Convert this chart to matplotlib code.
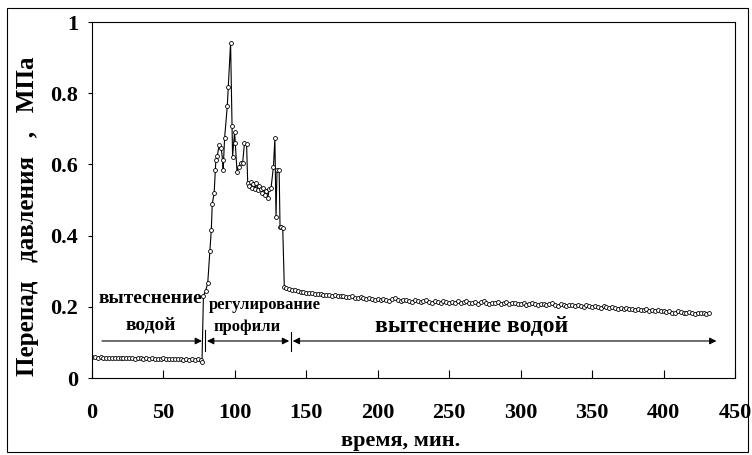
import numpy as np
import matplotlib
matplotlib.use("Agg")
import matplotlib.pyplot as plt
from matplotlib.patches import Rectangle

# ---- data ----
t1 = np.arange(0, 77, 2)
y1 = [0.058, 0.059, 0.057, 0.058, 0.057, 0.056, 0.057, 0.056, 0.056, 0.057,
      0.055, 0.056, 0.055, 0.056, 0.055, 0.054, 0.056, 0.055, 0.054, 0.055,
      0.054, 0.055, 0.054, 0.053, 0.054, 0.055, 0.053, 0.054, 0.053, 0.053,
      0.054, 0.053, 0.052, 0.053, 0.052, 0.053, 0.052, 0.053, 0.050]

t2 = [77, 78, 79.5, 81, 82.5, 83.5, 84.2, 85.5, 86.3, 86.7,
      87.7, 89, 90.5, 91.4, 91.8, 92.8, 94.7, 95.4, 97, 98,
      98.4, 99.8, 100.3, 101.5, 102.6, 104.5, 105.4, 106.7, 108.2, 109,
      110, 111, 112, 113, 114, 115, 116, 117, 118, 119, 120, 121, 122, 123, 124,
      125.3, 127, 128, 128.8, 129.5, 131, 131.6, 132.4, 133.5, 134.6]
y2 = [0.045, 0.23, 0.245, 0.266, 0.357, 0.416, 0.49, 0.519, 0.584, 0.612,
      0.624, 0.654, 0.645, 0.612, 0.584, 0.673, 0.764, 0.818, 0.942, 0.708,
      0.622, 0.692, 0.659, 0.58, 0.594, 0.603, 0.603, 0.659, 0.657, 0.547,
      0.54, 0.552, 0.535, 0.545, 0.53, 0.548, 0.527, 0.54, 0.532, 0.52, 0.535, 0.515, 0.525, 0.505, 0.53,
      0.533, 0.594, 0.673, 0.453, 0.584, 0.584, 0.425, 0.425, 0.42, 0.256]

t3 = np.arange(136, 433, 2)
y3 = [0.252, 0.250, 0.247, 0.248, 0.244, 0.242, 0.243, 0.240,
      0.238, 0.239, 0.236, 0.235, 0.236, 0.233, 0.234, 0.232, 0.231, 0.233, 0.230, 0.229, 0.231,
      0.228, 0.227, 0.229, 0.226, 0.225, 0.227, 0.224, 0.222, 0.224, 0.221, 0.220, 0.222,
      0.219, 0.223, 0.218, 0.216, 0.221, 0.224, 0.219, 0.215, 0.218, 0.220, 0.216, 0.214, 0.219,
      0.217, 0.213, 0.216, 0.218, 0.214, 0.212, 0.216, 0.214, 0.211, 0.215, 0.213, 0.210,
      0.214, 0.212, 0.216, 0.211, 0.213, 0.215, 0.210, 0.212, 0.214, 0.209, 0.213, 0.216, 0.211,
      0.208, 0.212, 0.210, 0.213, 0.209, 0.211, 0.214, 0.208, 0.210, 0.212, 0.207, 0.209,
      0.211, 0.206, 0.209, 0.212, 0.207, 0.205, 0.209, 0.207, 0.204, 0.208, 0.210, 0.205, 0.203,
      0.207, 0.205, 0.202, 0.206, 0.204, 0.201, 0.205, 0.203, 0.200, 0.204, 0.202, 0.199,
      0.203, 0.200, 0.198, 0.202, 0.199, 0.196, 0.200, 0.197, 0.195, 0.198, 0.194, 0.196, 0.193,
      0.195, 0.192, 0.194, 0.191, 0.190, 0.193, 0.189, 0.191, 0.188, 0.190, 0.187, 0.189,
      0.186, 0.188, 0.184, 0.183, 0.187, 0.185, 0.182, 0.184, 0.186, 0.183, 0.181, 0.184,
      0.182, 0.183, 0.180, 0.182]

x_ticks = [0, 50, 100, 150, 200, 250, 300, 350, 400, 450]
y_ticks = [0, 0.2, 0.4, 0.6, 0.8, 1]
y_tick_labels = ["0", "0.2", "0.4", "0.6", "0.8", "1"]

t = np.concatenate([t1, t2, t3])
y = np.concatenate([y1, y2, y3])

# ---- figure ----
plt.rcParams['font.family'] = ['Liberation Serif', 'DejaVu Serif']
plt.rcParams['font.weight'] = 'bold'

fig = plt.figure(figsize=(7.52, 4.55), dpi=100)
ax = fig.add_axes([0.1223, 0.1692, 0.8551, 0.7824])

ax.plot(t, y, color='black', lw=0.8, marker='o', ms=2.8,
        mfc='white', mec='black', mew=0.6)

ax.set_xlim(0, 450)
ax.set_ylim(0, 1)
ax.set_xticks(x_ticks)
ax.set_xticklabels([str(v) for v in x_ticks], fontsize=16, fontweight='bold')
ax.set_yticks(y_ticks)
ax.set_yticklabels(y_tick_labels, fontsize=16, fontweight='bold')
ax.tick_params(axis='x', direction='in', length=6, width=0.8, pad=18)
ax.tick_params(axis='y', direction='out', length=3, width=0.8, pad=7)
for s in ax.spines.values():
    s.set_linewidth(0.8)

ax.set_ylabel("Перепад   давления   ,   МПа", fontsize=18, fontweight='bold')
ax.yaxis.set_label_coords(-0.083, 0.455)
ax.set_xlabel("время, мин.", fontsize=16, fontweight='bold')
ax.xaxis.set_label_coords(0.48, -0.148)

# annotations
ax.text(41, 0.224, "вытеснение", ha='center', va='center', fontsize=14, fontweight='bold')
ax.text(41, 0.149, "водой", ha='center', va='center', fontsize=14, fontweight='bold')
ax.text(121, 0.205, "регулирование", ha='center', va='center', fontsize=12, fontweight='bold')
ax.text(108.5, 0.144, "профили", ha='center', va='center', fontsize=12, fontweight='bold')
ax.text(265.5, 0.144, "вытеснение водой", ha='center', va='center', fontsize=17, fontweight='bold')

ay = 0.104
ax.annotate("", xy=(77, ay), xytext=(7, ay),
            arrowprops=dict(arrowstyle='-|>', color='black', lw=0.8, mutation_scale=10,
                            shrinkA=0, shrinkB=0))
ax.annotate("", xy=(138, ay), xytext=(80.5, ay),
            arrowprops=dict(arrowstyle='<|-|>', color='black', lw=0.8, mutation_scale=10,
                            shrinkA=0, shrinkB=0))
ax.annotate("", xy=(437, ay), xytext=(140.5, ay),
            arrowprops=dict(arrowstyle='<|-|>', color='black', lw=0.8, mutation_scale=10,
                            shrinkA=0, shrinkB=0))
ax.plot([79.3, 79.3], [0.075, 0.135], color='black', lw=0.8)
ax.plot([139.3, 139.3], [0.075, 0.13], color='black', lw=0.8)

fig.patches.append(Rectangle((0.009, 0.006), 0.986, 0.976, transform=fig.transFigure,
                             fill=False, edgecolor='black', lw=0.8))

fig.savefig("out.png", dpi=100)
